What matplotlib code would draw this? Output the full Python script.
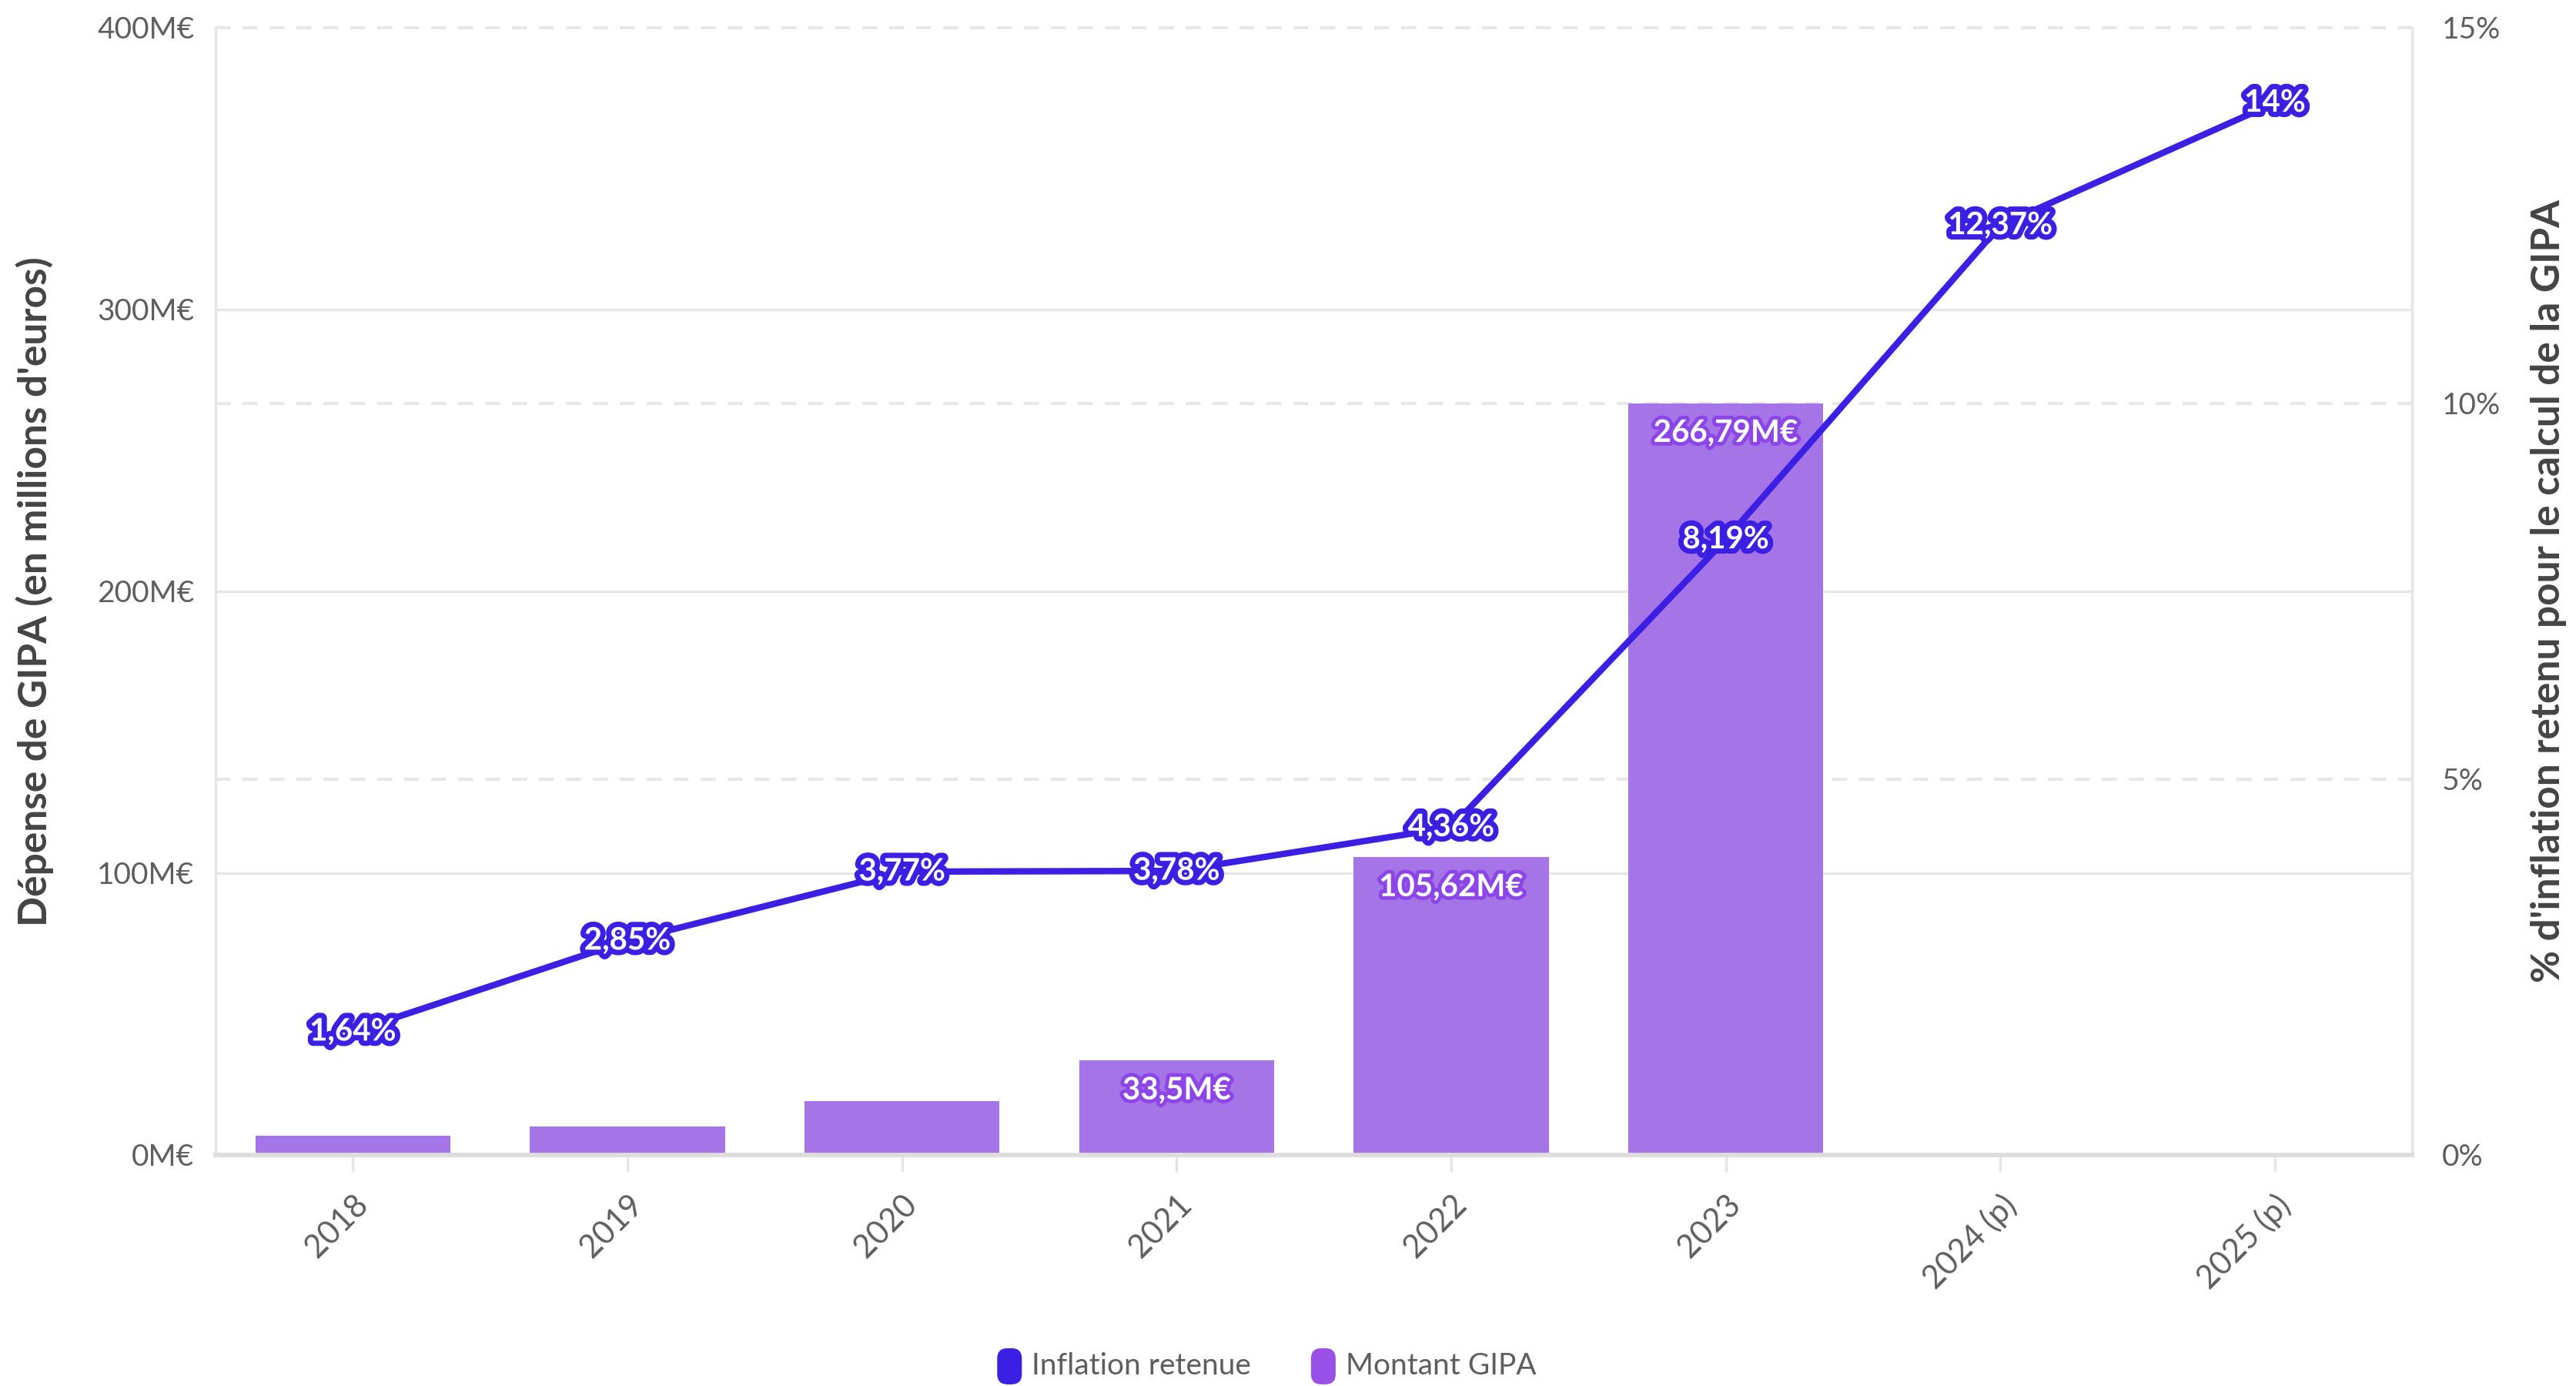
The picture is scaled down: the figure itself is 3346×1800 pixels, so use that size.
import matplotlib
matplotlib.use("Agg")
import matplotlib.pyplot as plt
import matplotlib.patheffects as pe
import matplotlib.transforms as mtransforms
from matplotlib.patches import FancyBboxPatch
import numpy as np

categories = ["2018", "2019", "2020", "2021", "2022", "2023", "2024 (p)", "2025 (p)"]
montant = [6.7, 10.1, 19.1, 33.5, 105.62, 266.79, None, None]
montant_labels = [None, None, None, "33,5M€", "105,62M€", "266,79M€", None, None]
inflation = [1.64, 2.85, 3.77, 3.78, 4.36, 8.19, 12.37, 14.0]
inflation_labels = ["1,64%", "2,85%", "3,77%", "3,78%", "4,36%", "8,19%", "12,37%", "14%"]
left_ticks = [0, 100, 200, 300, 400]
right_ticks = [0, 5, 10, 15]
legend_names = ["Inflation retenue", "Montant GIPA"]

FONT = ["Lato", "DejaVu Sans"]
plt.rcParams['font.family'] = FONT

LINE_C = "#3b1fe2"
BAR_C = "#a574e6"
LEG_BAR_C = "#9a4fe6"
GRID_C = "#e6e6e6"
TICK_C = "#5e5e5e"

fig = plt.figure(figsize=(16.73, 9.0), dpi=200)
ax = fig.add_axes([0.0837, 0.1667, 0.8527, 0.8133])
ax2 = ax.twinx()

x = np.arange(len(categories))
bx = [i for i, v in zip(x, montant) if v is not None]
bv = [v for v in montant if v is not None]
ax.bar(bx, bv, width=0.71, color=BAR_C, zorder=2)

ax.set_xlim(-0.5, len(categories) - 0.5)
ax.set_ylim(0, 400)
ax2.set_ylim(0, 15)

ax.set_yticks(left_ticks)
ax.set_yticklabels([f"{t}M€" for t in left_ticks])
ax2.set_yticks(right_ticks)
ax2.set_yticklabels([f"{t}%" for t in right_ticks])

# gridlines (right-axis dashed lines drawn behind bars via blended transform)
for t in left_ticks[1:-1]:
    ax.axhline(t, color=GRID_C, lw=1.2, zorder=0)
blend = mtransforms.blended_transform_factory(ax.transAxes, ax2.transData)
for t in right_ticks[1:]:
    ax.plot([0, 1], [t, t], transform=blend, color=GRID_C, lw=1.4, ls=(0, (5, 4)),
            zorder=0.5, clip_on=False)

for a in (ax, ax2):
    a.spines["top"].set_visible(False)
    a.spines["left"].set_color(GRID_C)
    a.spines["right"].set_color(GRID_C)
    a.spines["bottom"].set_color("#dddddd")
    a.spines["bottom"].set_linewidth(2)
    a.spines["left"].set_linewidth(1.2)
    a.spines["right"].set_linewidth(1.2)

ax.tick_params(axis="y", length=0, pad=10, labelsize=14, labelcolor=TICK_C)
ax2.tick_params(axis="y", length=0, pad=14, labelsize=14, labelcolor=TICK_C)
ax.set_xticks(x)
ax.set_xticklabels(categories, rotation=45, ha="right", va="top", rotation_mode="anchor")
ax.tick_params(axis="x", length=8, color=GRID_C, width=1.2, pad=8, labelsize=15, labelcolor=TICK_C)

ax.set_ylabel("Dépense de GIPA (en millions d'euros)", fontsize=18.5, fontweight="bold", color="#444444", labelpad=20)
ax2.set_ylabel("% d'inflation retenu pour le calcul de la GIPA", fontsize=18.5, fontweight="bold", color="#444444", labelpad=14)

ax2.plot(x, inflation, color=LINE_C, lw=3, zorder=3, solid_capstyle="round")

for xi, v, lab in zip(x, inflation, inflation_labels):
    ax2.text(xi, v, lab, ha="center", va="center", fontsize=14.5, fontweight="bold", color="white", zorder=5,
             path_effects=[pe.withStroke(linewidth=5, foreground=LINE_C)])

for xi, v, lab in zip(x, montant, montant_labels):
    if lab is None:
        continue
    ax.annotate(lab, (xi, v), xytext=(0, -14), textcoords="offset points", ha="center", va="center",
                fontsize=14.5, fontweight="bold", color="white", zorder=5,
                path_effects=[pe.withStroke(linewidth=3.5, foreground="#8c45e6")])

ax.set_zorder(1)
ax2.set_zorder(2)
ax.patch.set_visible(False)
ax2.patch.set_visible(False)

# legend (bottom centre, rounded swatches)
leg_y = 1 - 832 / 844
sw_w, sw_h = 15 / 1568, 22 / 844
for name, col, sx in zip(legend_names, [LINE_C, LEG_BAR_C], [607 / 1568, 798 / 1568]):
    fig.patches.append(FancyBboxPatch((sx, leg_y - sw_h / 2), sw_w, sw_h,
                                      boxstyle="round,pad=0,rounding_size=0.004",
                                      transform=fig.transFigure, facecolor=col, edgecolor="none",
                                      mutation_aspect=1.86))
    fig.text(sx + sw_w + 6 / 1568, leg_y, name, ha="left", va="center", fontsize=14, color=TICK_C)

fig.savefig("out.png", dpi=200)
